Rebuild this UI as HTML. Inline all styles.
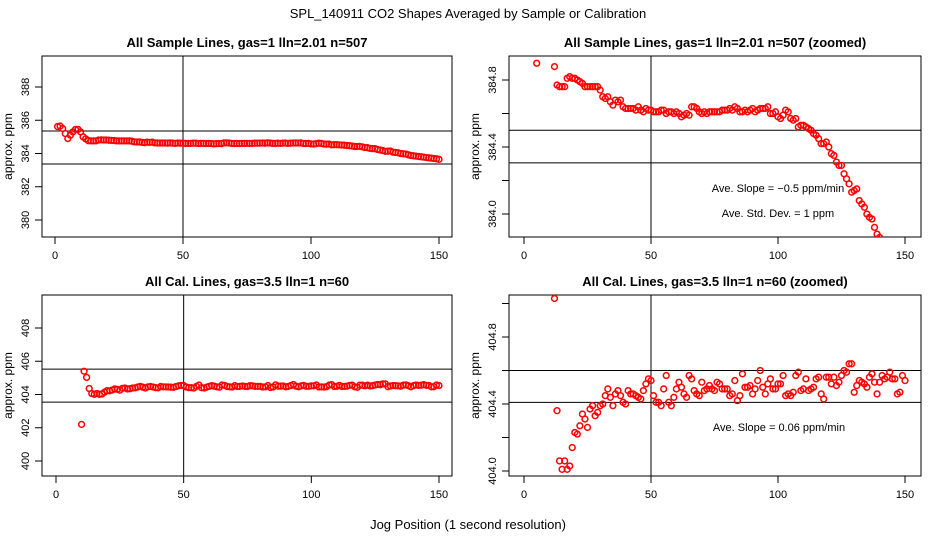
<!DOCTYPE html>
<html><head><meta charset="utf-8"><style>
html,body{margin:0;padding:0;background:#fff;width:936px;height:540px;overflow:hidden;}
svg{display:block;font-family:"Liberation Sans",sans-serif;}
</style></head><body>
<svg id="chart" width="936" height="540" viewBox="0 0 936 540" xmlns="http://www.w3.org/2000/svg">
<text x="468" y="18" text-anchor="middle" font-size="13">SPL_140911  CO2 Shapes Averaged by Sample or Calibration</text>
<text x="468" y="529" text-anchor="middle" font-size="13">Jog Position (1 second resolution)</text>
</svg>
<script>
const sampleX = [1,2,3,4,5,6,7,8,9,10,11,12,13,14,15,16,17,18,19,20,21,22,23,24,25,26,27,28,29,30,31,32,33,34,35,36,37,38,39,40,41,42,43,44,45,46,47,48,49,50,51,52,53,54,55,56,57,58,59,60,61,62,63,64,65,66,67,68,69,70,71,72,73,74,75,76,77,78,79,80,81,82,83,84,85,86,87,88,89,90,91,92,93,94,95,96,97,98,99,100,101,102,103,104,105,106,107,108,109,110,111,112,113,114,115,116,117,118,119,120,121,122,123,124,125,126,127,128,129,130,131,132,133,134,135,136,137,138,139,140,141,142,143,144,145,146,147,148,149,150];
const sampleY = [385.62,385.65,385.5,385.2,384.9,385.1,385.3,385.45,385.45,385.3,385.0,384.88,384.77,384.76,384.76,384.76,384.81,384.82,384.81,384.81,384.80,384.79,384.78,384.76,384.76,384.76,384.76,384.76,384.76,384.74,384.70,384.69,384.70,384.67,384.65,384.68,384.67,384.68,384.64,384.63,384.63,384.63,384.63,384.62,384.64,384.62,384.61,384.63,384.62,384.62,384.61,384.61,384.61,384.62,384.62,384.60,384.61,384.61,384.60,384.61,384.60,384.58,384.59,384.60,384.59,384.64,384.64,384.63,384.61,384.60,384.61,384.60,384.61,384.61,384.61,384.61,384.61,384.62,384.62,384.62,384.63,384.62,384.64,384.63,384.61,384.61,384.62,384.61,384.62,384.63,384.61,384.62,384.63,384.63,384.63,384.64,384.60,384.60,384.61,384.58,384.57,384.59,384.62,384.61,384.57,384.56,384.57,384.52,384.53,384.53,384.52,384.51,384.50,384.48,384.47,384.45,384.42,384.42,384.43,384.40,384.36,384.35,384.31,384.29,384.29,384.24,384.21,384.18,384.13,384.14,384.15,384.08,384.06,384.04,384.00,383.98,383.97,383.92,383.88,383.86,383.84,383.82,383.80,383.78,383.76,383.74,383.72,383.70,383.68,383.65];
const calX = [10,11,12,13,14,15,16,17,18,19,20,21,22,23,24,25,26,27,28,29,30,31,32,33,34,35,36,37,38,39,40,41,42,43,44,45,46,47,48,49,50,51,52,53,54,55,56,57,58,59,60,61,62,63,64,65,66,67,68,69,70,71,72,73,74,75,76,77,78,79,80,81,82,83,84,85,86,87,88,89,90,91,92,93,94,95,96,97,98,99,100,101,102,103,104,105,106,107,108,109,110,111,112,113,114,115,116,117,118,119,120,121,122,123,124,125,126,127,128,129,130,131,132,133,134,135,136,137,138,139,140,141,142,143,144,145,146,147,148,149,150];
const calY = [402.2,405.4,405.03,404.36,404.06,404.01,404.06,404.01,404.03,404.14,404.23,404.22,404.27,404.34,404.31,404.26,404.37,404.39,404.33,404.35,404.39,404.40,404.45,404.49,404.44,404.39,404.46,404.48,404.45,404.41,404.40,404.48,404.46,404.46,404.45,404.44,404.43,404.48,404.52,404.55,404.54,404.45,404.41,404.41,404.39,404.49,404.57,404.41,404.39,404.44,404.49,404.53,404.50,404.46,404.44,404.57,404.55,404.48,404.46,404.45,404.53,404.48,404.49,404.51,404.49,404.48,404.53,404.52,404.49,404.49,404.49,404.45,404.46,404.54,404.42,404.45,404.58,404.50,404.50,404.51,404.46,404.49,404.54,404.60,404.50,404.46,404.52,404.55,404.49,404.49,404.52,404.52,404.57,404.45,404.46,404.45,404.47,404.57,404.59,404.48,404.49,404.55,404.48,404.49,404.50,404.55,404.56,404.46,404.43,404.56,404.56,404.52,404.56,404.51,404.53,404.57,404.60,404.59,404.64,404.64,404.47,404.51,404.54,404.53,404.52,404.50,404.56,404.58,404.53,404.46,404.53,404.57,404.55,404.56,404.59,404.55,404.55,404.46,404.47,404.57,404.54];
const xTicks = [0,50,100,150];
const ticksTL = [380,382,384,386,388];
const labelsTL = ["380","382","384","386","388"];
const ticksTR = [384.0,384.2,384.4,384.6,384.8];
const labelsTR = ["384.0","","384.4","","384.8"];
const ticksBL = [400,402,404,406,408];
const labelsBL = ["400","402","404","406","408"];
const ticksBR = [404.0,404.2,404.4,404.6,404.8,405.0];
const labelsBR = ["404.0","","404.4","","404.8",""];
const hTL = [385.35,383.37], hTR = [384.5,384.305], hBL = [405.53,403.54], hBR = [404.6,404.41];
const vLine = 50;

const NS = "http://www.w3.org/2000/svg";
const svg = document.getElementById('chart');
function mk(tag, attrs, parent){const e=document.createElementNS(NS,tag);for(const k in attrs)e.setAttribute(k,attrs[k]);(parent||svg).appendChild(e);return e;}

function panel(id, cfg){
  const g = mk('g',{});
  
  
  const sx = v => cfg.x0 + (v-0)*(cfg.x150-cfg.x0)/150;
  const sy = v => cfg.yAp + (v-cfg.yA)*(cfg.yBp-cfg.yAp)/(cfg.yB-cfg.yA);
  const clip = mk('clipPath',{id:'clip-'+id},g);
  mk('rect',{x:cfg.bx0,y:cfg.by0,width:cfg.bx1-cfg.bx0,height:cfg.by1-cfg.by0},clip);
  const t = mk('text',{x:(cfg.bx0+cfg.bx1)/2,y:cfg.by0-9,'text-anchor':'middle','font-size':'13','font-weight':'bold'},g);
  t.textContent = cfg.title;
  
  
  const frame = mk('rect',{x:cfg.bx0,y:cfg.by0,width:cfg.bx1-cfg.bx0,height:cfg.by1-cfg.by0,fill:'none',stroke:'#000','stroke-width':1},g);
  
  
  xTicks.forEach(v=>{
    const x = sx(v);
    mk('line',{x1:x,x2:x,y1:cfg.by1,y2:cfg.by1+7,stroke:'#000'},g);
    const l = mk('text',{x:x,y:cfg.by1+22,'text-anchor':'middle','font-size':'11'},g);
    l.textContent = v;
    
    
  });
  cfg.ticks.forEach((v,i)=>{
    const y = sy(v);
    mk('line',{x1:cfg.bx0-7,x2:cfg.bx0,y1:y,y2:y,stroke:'#000'},g);
    if(cfg.labels[i]){
      const l = mk('text',{x:0,y:0,'text-anchor':'middle','font-size':'11',transform:`translate(${cfg.bx0-13},${y}) rotate(-90)`},g);
      l.textContent = cfg.labels[i];
      
      
    }
  });
  const yl = mk('text',{x:0,y:0,'text-anchor':'middle','font-size':'12',transform:`translate(${cfg.bx0-30},${(cfg.by0+cfg.by1)/2}) rotate(-90)`},g);
  yl.textContent = 'approx. ppm';
  
  
  cfg.h.forEach(v=>{
    const y = sy(v);
    const hl = mk('line',{x1:cfg.bx0,x2:cfg.bx1,y1:y,y2:y,stroke:'#000'},g);
    
    
  });
  const vx = sx(vLine);
  const vl = mk('line',{x1:vx,x2:vx,y1:cfg.by0,y2:cfg.by1,stroke:'#000'},g);
  
  
  const pts = mk('g',{'clip-path':`url(#clip-${id})`},g);
  cfg.xs.forEach((xv,i)=>{
    const cx = sx(xv), cy = sy(cfg.ys[i]);
    if(cy < cfg.by0-4 || cy > cfg.by1+4 || cx < cfg.bx0-4 || cx > cfg.bx1+4) return;
    const c = mk('circle',{cx:cx,cy:cy,r:2.9,fill:'none',stroke:'#ff0000','stroke-width':1.5},pts);
    
    
  });
  (cfg.notes||[]).forEach(n=>{
    const a = mk('text',{x:n[0],y:n[1],'text-anchor':'middle','font-size':'11'},g);
    a.textContent = n[2];
    
    
  });
}

panel('sample-full',{bx0:42,bx1:452,by0:56,by1:237,x0:55,x150:439,yA:388,yAp:87,yB:380,yBp:220,ticks:ticksTL,labels:labelsTL,h:hTL,xs:sampleX,ys:sampleY,title:'All Sample Lines, gas=1 lln=2.01 n=507'});
panel('sample-zoom',{bx0:509,bx1:921,by0:56,by1:237,x0:524,x150:905,yA:384.8,yAp:80,yB:384.0,yBp:214,ticks:ticksTR,labels:labelsTR,h:hTR,xs:sampleX,ys:sampleY,title:'All Sample Lines, gas=1 lln=2.01 n=507 (zoomed)',notes:[[778,192,'Ave. Slope =  \u22120.5  ppm/min'],[778,217,'Ave. Std. Dev. =  1  ppm']]});
panel('cal-full',{bx0:42,bx1:452,by0:295,by1:476,x0:56,x150:439,yA:408,yAp:328,yB:400,yBp:461,ticks:ticksBL,labels:labelsBL,h:hBL,xs:calX,ys:calY,title:'All Cal. Lines, gas=3.5 lln=1 n=60'});
panel('cal-zoom',{bx0:509,bx1:921,by0:295,by1:476,x0:524,x150:905,yA:404.8,yAp:337,yB:404.0,yBp:471,ticks:ticksBR,labels:labelsBR,h:hBR,xs:calX,ys:calY,title:'All Cal. Lines, gas=3.5 lln=1 n=60 (zoomed)',notes:[[779,431,'Ave. Slope =  0.06  ppm/min']]});
</script>
</body></html>
